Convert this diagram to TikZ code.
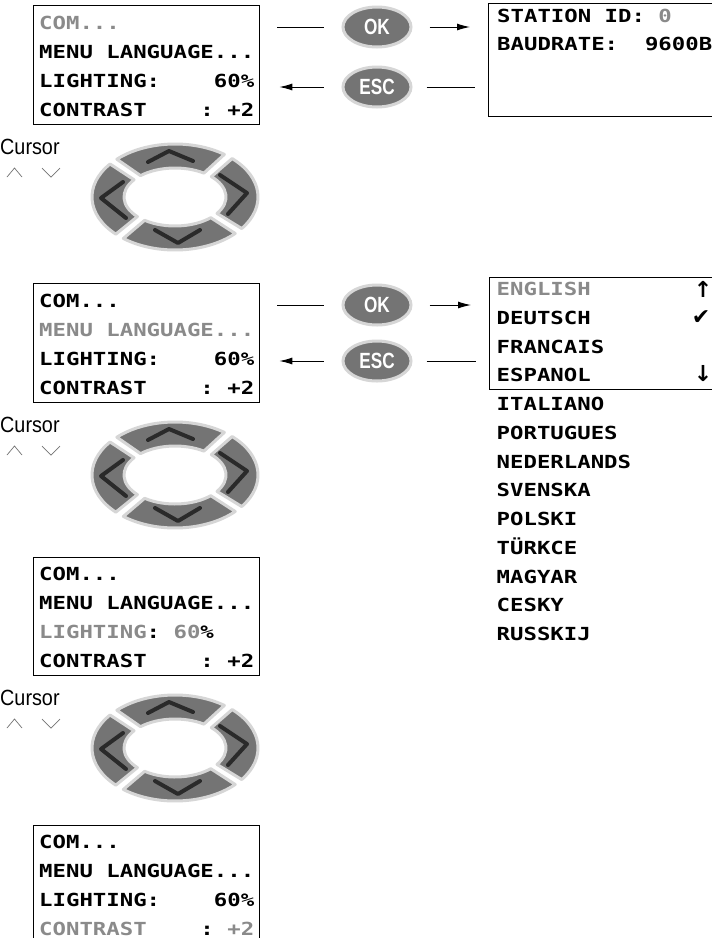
\documentclass[tikz,border=0pt]{standalone}
\usepackage{fontspec}
\setmainfont{Liberation Sans}
\newfontfamily\lcd[FakeStretch=1.24]{DejaVu Sans Mono}
\newfontfamily\btnfont[FakeStretch=0.78]{Liberation Sans}
\newfontfamily\curfont[FakeStretch=0.9]{Liberation Sans}
\newfontfamily\symfont{DejaVu Sans}
\usetikzlibrary{arrows.meta,shapes.geometric}
\definecolor{lcdgrey}{HTML}{8A8A8A}
\definecolor{paddark}{HTML}{747474}
\definecolor{padlight}{HTML}{D6D6D6}
\definecolor{chev}{HTML}{2A2A2A}
\tikzset{
  lcdtext/.style={anchor=base west, inner sep=0pt, font=\lcd\bfseries\fontsize{18}{20}\selectfont},
  screen/.style={draw=black, line width=1.3pt, anchor=north west, inner sep=0pt},
  btn/.style={ellipse, fill=paddark, draw=padlight, line width=3pt, minimum width=68pt, minimum height=40pt, inner sep=0pt, text=white, font=\btnfont\bfseries\fontsize{22}{22}\selectfont},
  conn/.style={draw=black, line width=1pt},
  tip/.style={-{Latex[length=13pt,width=7pt]}},
  cursym/.style={draw=black!55, line width=0.7pt},
  chevline/.style={draw=chev, line width=4pt, line cap=round, line join=round},
  segment/.style={fill=paddark, draw=padlight, line width=3pt, line join=round},
  curlabel/.style={anchor=base west, inner sep=0pt, font=\curfont\fontsize{22}{22}\selectfont},
  symbol/.style={inner sep=0pt, font=\symfont\bfseries\fontsize{22}{22}\selectfont}
}
\newcommand\cursorpad[2]{%
  \begin{scope}[shift={(175,#1)}]
    \foreach \a/\b in {40/132,132/222,222/310,310/400}{
      \pgfmathsetmacro\ao{\a+3.5}
      \pgfmathsetmacro\bo{\b-3.5}
      \pgfmathsetmacro\ai{\a+5.5}
      \pgfmathsetmacro\bi{\b-5.5}
      \filldraw[segment] (\ao:83 and 53) arc[start angle=\ao, end angle=\bo, x radius=83, y radius=53]
        -- (\bi:51 and 29) arc[start angle=\bi, end angle=\ai, x radius=51, y radius=29] -- cycle;
    }
    \draw[chevline] (-27,-35) -- (-6,-46) -- (18,-36);
    \draw[chevline] (45,-22) -- (72,-4) -- (53,17);
    \draw[chevline] (-52,-15) -- (-74,1) -- (-49,21);
    \draw[chevline] (-20,33) -- (3,46) -- (25,33);
  \end{scope}
  \node[curlabel] (#2) at (0,#1-43) {Cursor};
  \draw[cursym] (7,#1-20) -- (14.5,#1-29) -- (22,#1-20);
  \draw[cursym] (42,#1-29) -- (51,#1-20) -- (60,#1-29);
}
\begin{document}
\begin{tikzpicture}[x=1pt,y=-1pt]
\useasboundingbox (0,0) rectangle (712,938);
\clip (0,0) rectangle (712,938);
\fill[white] (0,0) rectangle (712,938);

% ---------- section 1 ----------
\node[screen, minimum width=226pt, minimum height=119pt] (box1) at (33,5) {};
\node[lcdtext, text=lcdgrey] (b1l1) at (39,29) {COM...};
\node[lcdtext] (b1l2) at (39,58) {MENU LANGUAGE...};
\node[lcdtext] (b1l3) at (39,87) {LIGHTING:~~~~60\%};
\node[lcdtext] (b1l4) at (39,116) {CONTRAST~~~~:~+2};

\node[btn] (ok1) at (377,27) {OK};
\node[btn] (esc1) at (377,87) {ESC};

\node[screen, minimum width=250pt, minimum height=113pt] (st1) at (488,3) {};
\node[lcdtext] (st1l1) at (497,22) {STATION ID:~\textcolor{lcdgrey}{0}};
\node[lcdtext] (st1l2) at (497,50) {BAUDRATE:~~9600B};

\draw[conn, shorten <=17pt, shorten >=18pt] (box1.east |- ok1.center) -- (ok1.west);
\draw[conn, tip, shorten <=17pt, shorten >=18pt] (ok1.east) -- (st1.west |- ok1.center);
\draw[conn, tip, shorten <=18pt, shorten >=19pt] (esc1.west) -- (box1.east |- esc1.center);
\draw[conn, shorten <=14pt, shorten >=13pt] (esc1.east) -- (st1.west |- esc1.center);

\cursorpad{197}{cur1}

% ---------- section 2 ----------
\node[screen, minimum width=226pt, minimum height=119pt] (box2) at (33,283) {};
\node[lcdtext] (b2l1) at (39,307) {COM...};
\node[lcdtext, text=lcdgrey] (b2l2) at (39,336) {MENU LANGUAGE...};
\node[lcdtext] (b2l3) at (39,365) {LIGHTING:~~~~60\%};
\node[lcdtext] (b2l4) at (39,394) {CONTRAST~~~~:~+2};

\node[btn] (ok2) at (377,305) {OK};
\node[btn] (esc2) at (377,361) {ESC};

\node[screen, minimum width=250pt, minimum height=112pt] (lang) at (489,277) {};
\foreach \t [count=\i from 0] in {ENGLISH,DEUTSCH,FRANCAIS,ESPANOL,ITALIANO,PORTUGUES,NEDERLANDS,SVENSKA,POLSKI,TÜRKCE,MAGYAR,CESKY,RUSSKIJ}{
  \ifnum\i=0
    \node[lcdtext, text=lcdgrey] (lang\i) at (496.5,{295.7+28.75*\i}) {\t};
  \else
    \node[lcdtext] (lang\i) at (496.5,{295.7+28.75*\i}) {\t};
  \fi
}
\node[symbol] (up) at (703,289) {↑};
\node[symbol] (chk) at (701,318) {✔};
\node[symbol] (down) at (703,374) {↓};

\draw[conn, shorten <=17pt, shorten >=18pt] (box2.east |- ok2.center) -- (ok2.west);
\draw[conn, tip, shorten <=17pt, shorten >=18pt] (ok2.east) -- (lang.west |- ok2.center);
\draw[conn, tip, shorten <=18pt, shorten >=19pt] (esc2.west) -- (box2.east |- esc2.center);
\draw[conn, shorten <=14pt, shorten >=13pt] (esc2.east) -- (lang.west |- esc2.center);

\cursorpad{475}{cur2}

% ---------- section 3 ----------
\node[screen, minimum width=226pt, minimum height=118pt] (box3) at (33,557) {};
\node[lcdtext] (b3l1) at (39,580) {COM...};
\node[lcdtext] (b3l2) at (39,609) {MENU LANGUAGE...};
\node[lcdtext] (b3l3) at (39,638) {\textcolor{lcdgrey}{LIGHTING}:~\textcolor{lcdgrey}{60}\%};
\node[lcdtext] (b3l4) at (39,667) {CONTRAST~~~~:~+2};

\cursorpad{748}{cur3}

% ---------- section 4 ----------
\node[screen, minimum width=226pt, minimum height=130pt] (box4) at (33,825) {};
\node[lcdtext] (b4l1) at (39,848) {COM...};
\node[lcdtext] (b4l2) at (39,877) {MENU LANGUAGE...};
\node[lcdtext] (b4l3) at (39,906) {LIGHTING:~~~~60\%};
\node[lcdtext] (b4l4) at (39,935) {\textcolor{lcdgrey}{CONTRAST}~~~~:~\textcolor{lcdgrey}{+2}};
\end{tikzpicture}
\end{document}
